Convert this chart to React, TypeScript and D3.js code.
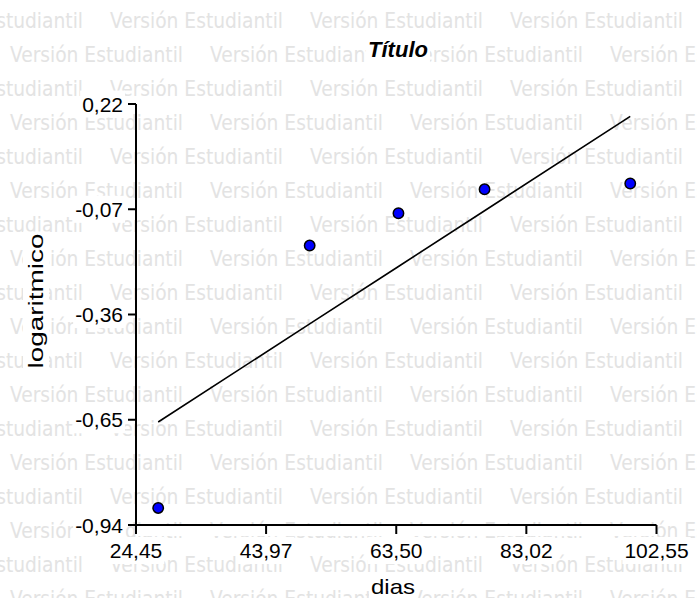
import React, { useEffect, useRef } from 'react';
import * as d3 from 'd3';

// data
const dias = [27.78, 50.51, 63.83, 76.75, 98.61];
const logaritmico = [-0.893, -0.17, -0.081, -0.015, 0.001];
const xTicks = [24.45, 43.97, 63.5, 83.02, 102.55];
const yTicks = [0.22, -0.07, -0.36, -0.65, -0.94];
const title = 'Título';
const xTitle = 'dias';
const yTitle = 'logaritmico';
const watermark = 'Versión Estudiantil';

const W = 697;
const H = 598;
const FONT = '"Liberation Sans", Arial, sans-serif';
const WM_FONT = '"DejaVu Sans Condensed", "DejaVu Sans", sans-serif';
const fmt = (v: number) => v.toFixed(2).replace('.', ',');

const App: React.FC = () => {
  const ref = useRef<SVGSVGElement | null>(null);

  useEffect(() => {
    const svg = d3.select(ref.current);
    svg.selectAll('*').remove();

    const x = d3.scaleLinear().domain([24.45, 102.55]).range([136, 656.5]);
    const y = d3.scaleLinear().domain([-0.94, 0.22]).range([525, 104]);

    // background + watermark rows
    svg.append('rect').attr('width', W).attr('height', H).attr('fill', '#fff');
    const wm = svg.append('g').attr('fill', '#e3e3e3').attr('font-family', WM_FONT).attr('font-size', 20.5);
    for (let r = 0; r < 18; r++) {
      const shifted = r % 2 === 0;
      const row = wm.append('g').attr('transform', `translate(${shifted ? -90 : 10},${28 + r * 34})`);
      for (let c = 0; c < 5; c++) {
        row.append('text')
          .attr('x', c * 200)
          .attr('y', 0)
          .attr('textLength', 173)
          .attr('lengthAdjust', 'spacingAndGlyphs')
          .text(watermark);
      }
    }

    // label with a white box behind it
    const label = (
      g: d3.Selection<SVGGElement, unknown, null, undefined>,
      txt: string,
      attrs: Record<string, string | number>,
      pad = 2
    ) => {
      const t = g.append('text').text(txt);
      Object.entries(attrs).forEach(([k, v]) => t.attr(k, v));
      const b = (t.node() as SVGTextElement).getBBox();
      g.insert('rect', () => t.node())
        .attr('x', b.x - pad)
        .attr('y', b.y - pad)
        .attr('width', b.width + pad * 2)
        .attr('height', b.height + pad * 2)
        .attr('fill', '#fff');
      return t;
    };

    const labels = svg.append('g').attr('font-family', FONT).attr('fill', '#000');

    // title
    const tg = labels.append('g');
    label(tg, title, { x: 398, y: 57, 'text-anchor': 'middle', 'font-size': 22, 'font-weight': 'bold', 'font-style': 'italic' });

    // y tick labels
    yTicks.forEach((v) => {
      const g = labels.append('g');
      label(g, fmt(v), { x: 123, y: y(v), dy: '0.36em', 'text-anchor': 'end', 'font-size': 21 });
    });

    // x tick labels
    xTicks.forEach((v) => {
      const g = labels.append('g');
      label(g, fmt(v), { x: x(v), y: 558, 'text-anchor': 'middle', 'font-size': 21 });
    });

    // axis titles
    const xg = labels.append('g');
    label(xg, xTitle, { x: 393, y: 594, 'text-anchor': 'middle', 'font-size': 21, textLength: 44, lengthAdjust: 'spacingAndGlyphs' });
    const yg = labels.append('g').attr('transform', 'translate(43,301) rotate(-90)');
    label(yg, yTitle, { x: 0, y: 0, 'text-anchor': 'middle', 'font-size': 20, textLength: 135, lengthAdjust: 'spacingAndGlyphs' });

    // white strip under the x axis
    svg.append('rect').attr('x', 137).attr('y', 526).attr('width', 520).attr('height', 10).attr('fill', '#fff');

    // axes
    const axes = svg.append('g').attr('stroke', '#000').attr('stroke-width', 2).attr('fill', 'none');
    axes.append('line').attr('x1', x(24.45)).attr('x2', x(24.45)).attr('y1', y(0.22)).attr('y2', y(-0.94) + 1);
    axes.append('line').attr('x1', x(24.45) - 1).attr('x2', x(102.55)).attr('y1', y(-0.94)).attr('y2', y(-0.94));
    yTicks.forEach((v) => {
      axes.append('line').attr('x1', x(24.45) - 8).attr('x2', x(24.45)).attr('y1', y(v)).attr('y2', y(v));
    });
    xTicks.forEach((v) => {
      axes.append('line').attr('x1', x(v)).attr('x2', x(v)).attr('y1', y(-0.94)).attr('y2', y(-0.94) + 9);
    });

    // least squares fit line
    const mx = d3.mean(dias) as number;
    const my = d3.mean(logaritmico) as number;
    const sxy = d3.sum(dias, (d, i) => (d - mx) * (logaritmico[i] - my));
    const sxx = d3.sum(dias, (d) => (d - mx) * (d - mx));
    const slope = sxy / sxx;
    const fit = (v: number) => my + slope * (v - mx);
    const lineGen = d3.line<number>().x((d) => x(d)).y((d) => y(fit(d)));
    svg.append('path')
      .attr('d', lineGen(dias) as string)
      .attr('fill', 'none')
      .attr('stroke', '#000')
      .attr('stroke-width', 1.6);

    // points
    svg.append('g')
      .selectAll('circle')
      .data(dias)
      .join('circle')
      .attr('cx', (d) => x(d))
      .attr('cy', (d, i) => y(logaritmico[i]))
      .attr('r', 5.2)
      .attr('fill', '#0000ff')
      .attr('stroke', '#000')
      .attr('stroke-width', 1.5);
  }, []);

  return (
    <svg
      ref={ref}
      width={W}
      height={H}
      style={{ position: 'absolute', left: 0, top: 0, display: 'block' }}
    />
  );
};

export default App;
